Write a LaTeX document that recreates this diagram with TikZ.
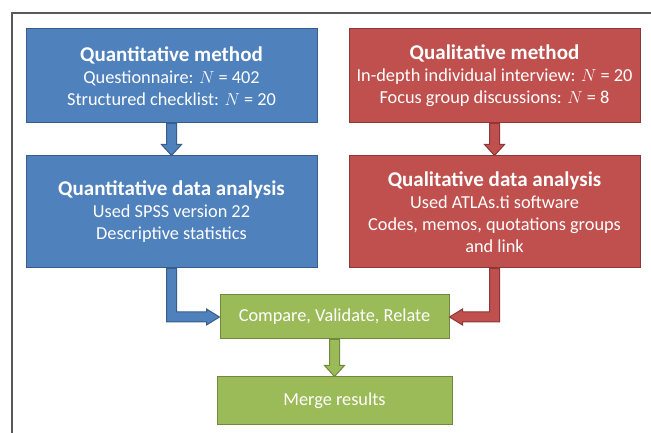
\documentclass[tikz,border=0pt]{standalone}
\usepackage{fontspec}
\setmainfont{Carlito}
\usetikzlibrary{calc}

\definecolor{qblue}{HTML}{4F81BD}
\definecolor{qblueline}{HTML}{385D8A}
\definecolor{qred}{HTML}{C0504D}
\definecolor{qredline}{HTML}{8C3836}
\definecolor{qgreen}{HTML}{9BBB59}
\definecolor{qgreenline}{HTML}{71893F}
\definecolor{frameline}{HTML}{595959}

\tikzset{
    stagebox/.style={rectangle, draw=#1line, fill=#1, line width=1pt, text=white,
        align=center, inner sep=0pt, font=\fontsize{18.3}{22}\selectfont},
    bigbox/.style={stagebox=#1, minimum width=291pt},
    blockarrow/.style={draw=#1line, fill=#1, line width=1pt, line join=miter},
}
\newcommand{\boxtitle}[1]{{\fontsize{21}{22}\selectfont\bfseries #1}}

\begin{document}
\begin{tikzpicture}[x=1pt, y=1pt]
    \useasboundingbox (0,0) rectangle (651,433);

    % frame
    \draw[frameline, line width=1.3pt] (651,420) -- (12,420) -- (12,0);

    % methods
    \node[bigbox=qblue, minimum height=94pt] (qnm) at (171.5,357)
        {\boxtitle{Quantitative method}\\ Questionnaire: $N$ = 402\\ Structured checklist: $N$ = 20};
    \node[bigbox=qred, minimum height=94pt] (qlm) at (494.5,357)
        {\boxtitle{Qualitative method}\\ In-depth individual interview: $N$ = 20\\ Focus group discussions: $N$ = 8};

    % analysis
    \node[bigbox=qblue, minimum height=112pt] (qnda) at (171.5,221)
        {\boxtitle{Quantitative data analysis}\\ Used SPSS version 22\\ Descriptive statistics};
    \node[bigbox=qred, minimum height=112pt] (qlda) at (494.5,221)
        {\boxtitle{Qualitative data analysis}\\ Used ATLAs.ti software\\ Codes, memos, quotations groups\\ and link};

    % results
    \node[stagebox=qgreen, minimum width=229pt, minimum height=44pt] (cvr) at (334.5,116)
        {Compare, Validate, Relate};
    \node[stagebox=qgreen, minimum width=235pt, minimum height=48pt] (mrg) at (334.5,32)
        {Merge results};

    % straight arrows
    \foreach \from/\to/\col in {qnm/qnda/qblue, qlm/qlda/qred, cvr/mrg/qgreen}
        \draw[blockarrow=\col] ($(\from.south)+(-5,0)$) -- ($(\to.north)+(-5,11)$) -- ++(-5,0)
            -- (\to.north) -- ++(10,11) -- ++(-5,0) -- ($(\from.south)+(5,0)$) -- cycle;

    % elbow arrows
    \draw[blockarrow=qblue] ($(qnda.south)+(-5,0)$) |- ($(cvr.west)+(-13,-5)$) -- ++(0,-3)
        -- (cvr.west) -- ++(-13,8) -- ++(0,-3) -| ($(qnda.south)+(5,0)$) -- cycle;
    \draw[blockarrow=qred] ($(qlda.south)+(5,0)$) |- ($(cvr.east)+(13,-5)$) -- ++(0,-3)
        -- (cvr.east) -- ++(13,8) -- ++(0,-3) -| ($(qlda.south)+(-5,0)$) -- cycle;
\end{tikzpicture}
\end{document}
